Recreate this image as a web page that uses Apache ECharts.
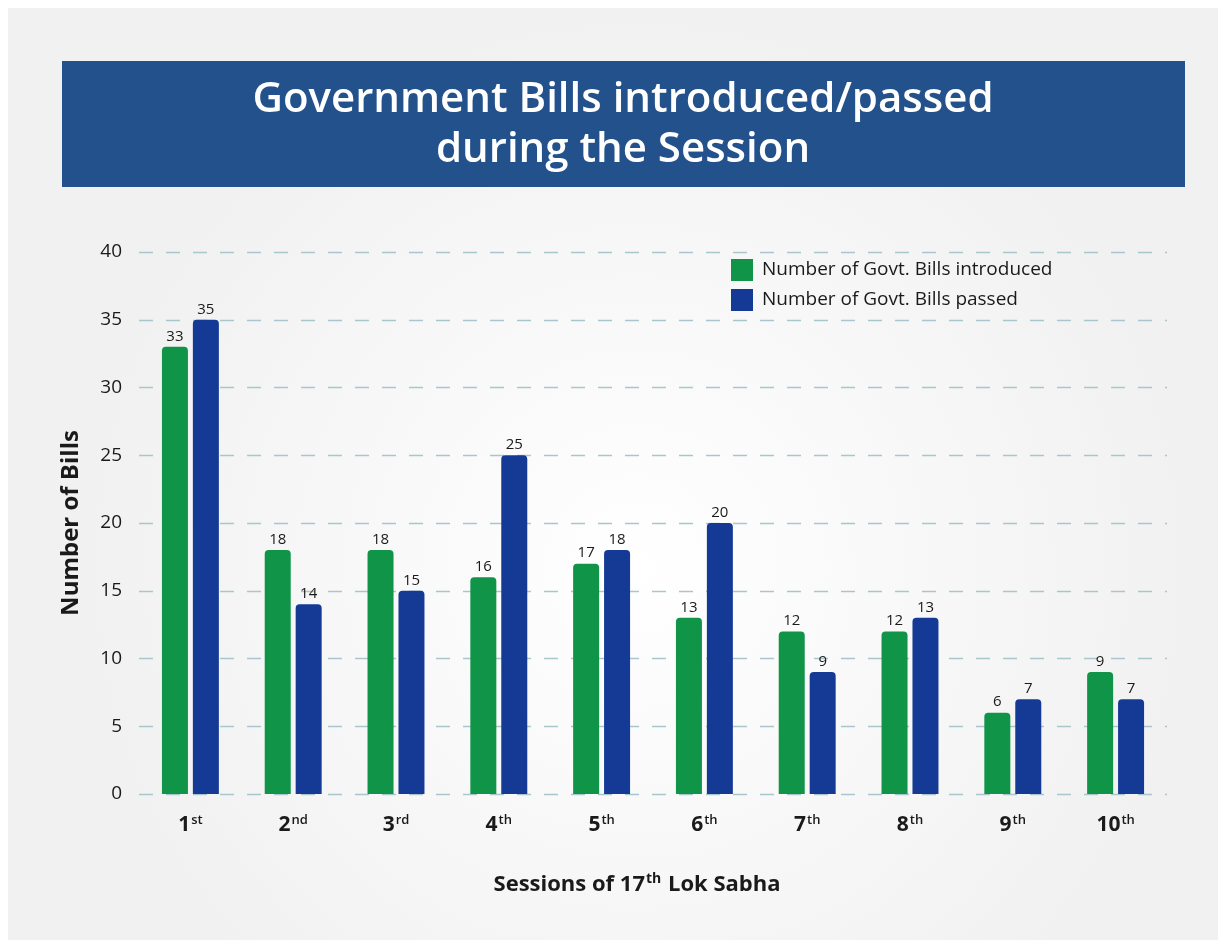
<!DOCTYPE html>
<html>
<head>
<meta charset="utf-8">
<style>html,body{margin:0;padding:0;background:#fff;}#c{width:1226px;height:948px;}</style>
<script src="https://cdn.jsdelivr.net/npm/echarts@6/dist/echarts.min.js"></script>
</head>
<body>
<div id="c"></div>
<script>
const categories = [['1','st'],['2','nd'],['3','rd'],['4','th'],['5','th'],['6','th'],['7','th'],['8','th'],['9','th'],['10','th']];
const introduced = [33, 18, 18, 16, 17, 13, 12, 12, 6, 9];
const passed = [35, 14, 15, 25, 18, 20, 9, 13, 7, 7];
const seriesNames = ['Number of Govt. Bills introduced', 'Number of Govt. Bills passed'];
const yTicks = [0, 5, 10, 15, 20, 25, 30, 35, 40];

const FONT = 'Open Sans';
const chart = echarts.init(document.getElementById('c'));
const catKeys = categories.map(c => c[0] + '|' + c[1]);
chart.setOption({
  animation: false,
  graphic: [
    { type: 'rect', z: -10, silent: true, shape: { x: 8, y: 8, width: 1210, height: 932 },
      style: { fill: { type: 'radial', x: 0.52, y: 0.6, r: 0.6,
        colorStops: [{ offset: 0, color: '#ffffff' }, { offset: 1, color: '#f1f1f1' }] } } },
    { type: 'rect', z: -5, silent: true, shape: { x: 62, y: 61, width: 1123, height: 126 },
      style: { fill: '#22518b' } },
    { type: 'text', z: 10, silent: true, x: 623, y: 125,
      style: { text: 'Government Bills introduced/passed\nduring the Session', fill: '#ffffff',
        font: '600 42px "' + FONT + '"', lineHeight: 50, align: 'center', verticalAlign: 'middle' } },
    { type: 'text', z: 10, silent: true, x: 637, y: 885,
      style: { align: 'center', verticalAlign: 'middle',
               rich: { b: { fontFamily: FONT, fontWeight: 'bold', fontSize: 22, fill: '#1a1a1a' },
                       s: { fontFamily: FONT, fontWeight: 'bold', fontSize: 14, fill: '#1a1a1a', verticalAlign: 'top', padding: [0, 1, 11, 1] } },
               text: '{b|Sessions of 17}{s|th}{b| Lok Sabha}' } }
  ],
  legend: {
    orient: 'vertical', left: 726, top: 254, itemWidth: 22, itemHeight: 22, itemGap: 8,
    icon: 'rect',
    textStyle: { fontFamily: FONT, fontSize: 19, color: '#1a1a1a', padding: [0, 0, 0, 4] },
    data: seriesNames
  },
  grid: { left: 139, right: 59, top: 252, bottom: 154, containLabel: false },
  xAxis: {
    type: 'category', data: catKeys,
    axisLine: { show: false }, axisTick: { show: false },
    axisLabel: {
      margin: 20,
      formatter: v => { const p = v.split('|'); return '{n|' + p[0] + '}{s|' + p[1] + '}'; },
      rich: {
        n: { fontFamily: FONT, fontWeight: 'bold', fontSize: 21, color: '#1a1a1a' },
        s: { fontFamily: FONT, fontWeight: 600, fontSize: 13, color: '#1a1a1a', verticalAlign: 'top', padding: [0, 0, 9, 1] }
      }
    }
  },
  yAxis: {
    type: 'value', min: 0, max: 40, interval: 5,
    name: 'Number of Bills', nameLocation: 'middle', nameGap: 56, nameRotate: 90,
    nameTextStyle: { fontFamily: FONT, fontWeight: 'bold', fontSize: 24, color: '#1a1a1a' },
    axisLine: { show: false }, axisTick: { show: false },
    axisLabel: { margin: 17, fontFamily: FONT, fontSize: 19, color: '#1a1a1a',
      formatter: v => yTicks.includes(v) ? String(v) : '' },
    splitLine: { show: true, lineStyle: { color: '#a9c6cd', type: [14, 13], width: 1.3 } }
  },
  series: [
    { name: seriesNames[0], type: 'bar', data: introduced, barWidth: 26, barGap: '19%',
      itemStyle: { color: '#0f9448', borderRadius: [4, 4, 0, 0] },
      label: { show: true, position: 'top', distance: 3, fontFamily: FONT, fontSize: 15, color: '#1a1a1a' } },
    { name: seriesNames[1], type: 'bar', data: passed, barWidth: 26,
      itemStyle: { color: '#143a96', borderRadius: [4, 4, 0, 0] },
      label: { show: true, position: 'top', distance: 3, fontFamily: FONT, fontSize: 15, color: '#1a1a1a' } }
  ]
});
</script>
</body>
</html>
